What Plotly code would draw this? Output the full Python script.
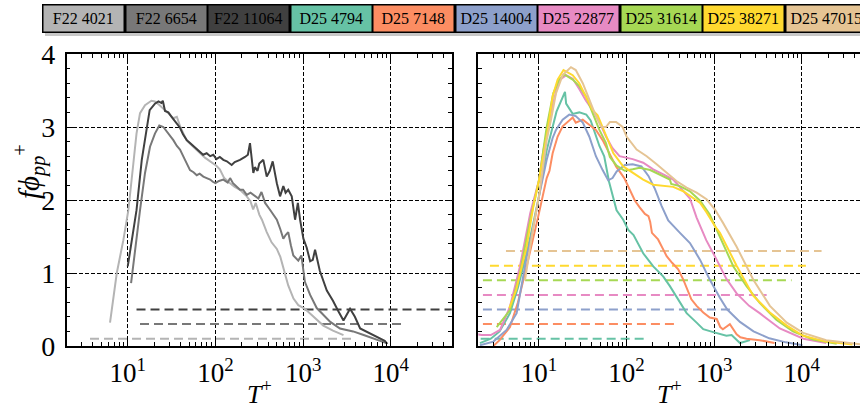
import numpy as np
import plotly.graph_objects as go

# ---------------- data (x values are log10(T+)) ----------------
labels = ["F22 4021", "F22 6654", "F22 11064", "D25 4794", "D25 7148",
          "D25 14004", "D25 22877", "D25 31614", "D25 38271", "D25 47015"]
colors = ["#b4b4b4", "#787878", "#404040", "#66c2a5", "#fc8d62",
          "#8da0cb", "#e78ac3", "#a6d854", "#ffd92f", "#e5c494"]
panel = [1, 1, 1, 2, 2, 2, 2, 2, 2, 2]

# dashed reference lines: level and log10(T+) extent
ref_level = [0.1, 0.3, 0.5, 0.1, 0.3, 0.5, 0.7, 0.9, 1.1, 1.3]
ref_start_logT = [0.57, 1.14, 1.10, 0.334, 0.2, 0.2, 0.2, 0.2, 0.44, 0.623]
ref_end_logT = [3.57, 4.14, 4.80, 2.25, 2.59, 3.18, 3.60, 3.885, 4.048, 4.227]

f22_4021_logT = [0.798, 0.875, 0.95, 1.007, 1.064, 1.10, 1.14, 1.197, 1.27, 1.31, 1.36, 1.42, 1.47,
                 1.52, 1.56, 1.60, 1.67, 1.72, 1.77, 1.82, 1.88, 1.94, 2.01, 2.05, 2.10, 2.167,
                 2.22, 2.28, 2.33, 2.357, 2.40, 2.43, 2.46, 2.50, 2.53, 2.585, 2.64, 2.70, 2.74,
                 2.774, 2.83, 2.89, 2.945, 3.02, 3.116, 3.23, 3.34, 3.46]
f22_4021_val = [0.32, 1.00, 1.45, 1.86, 2.50, 2.91, 3.19, 3.30, 3.36, 3.35, 3.30, 3.24, 3.18,
                3.12, 3.14, 3.00, 2.82, 2.76, 2.70, 2.64, 2.58, 2.53, 2.47, 2.42, 2.30, 2.23,
                2.18, 2.14, 2.08, 2.05, 1.98, 1.87, 1.96, 1.80, 1.73, 1.56, 1.42, 1.33, 1.22,
                1.06, 0.83, 0.65, 0.56, 0.51, 0.40, 0.28, 0.21, 0.15]

f22_6654_logT = [1.038, 1.10, 1.14, 1.197, 1.254, 1.31, 1.36, 1.406, 1.44, 1.463, 1.52, 1.56,
                 1.596, 1.653, 1.69, 1.71, 1.75, 1.787, 1.82, 1.862, 1.90, 1.94, 1.97, 2.00,
                 2.04, 2.09, 2.14, 2.167, 2.20, 2.24, 2.28, 2.315, 2.357, 2.40, 2.45, 2.49,
                 2.525, 2.566, 2.62, 2.66, 2.70, 2.74, 2.774, 2.80, 2.83, 2.86, 2.888, 2.945,
                 2.98, 3.02, 3.08, 3.155, 3.23, 3.31, 3.42, 3.57, 3.69, 3.84, 3.95]
f22_6654_val = [0.86, 1.50, 1.86, 2.37, 2.73, 2.91, 3.02, 3.00, 2.95, 2.91, 2.82, 2.74,
                2.69, 2.55, 2.47, 2.41, 2.38, 2.34, 2.36, 2.32, 2.30, 2.28, 2.25, 2.23,
                2.26, 2.28, 2.24, 2.30, 2.23, 2.19, 2.14, 2.14, 2.07, 2.10, 2.05, 2.02,
                2.11, 1.96, 1.87, 1.80, 1.73, 1.60, 1.47, 1.52, 1.56, 1.38, 1.24, 1.17,
                1.24, 0.88, 0.70, 0.52, 0.43, 0.33, 0.24, 0.20, 0.15, 0.09, 0.04]

f22_11064_logT = [1.00, 1.05, 1.10, 1.16, 1.22, 1.25, 1.31, 1.35, 1.384, 1.40, 1.425, 1.463,
                  1.50, 1.52, 1.56, 1.596, 1.63, 1.673, 1.71, 1.75, 1.78, 1.82, 1.86, 1.90,
                  1.94, 1.976, 2.01, 2.05, 2.09, 2.13, 2.167, 2.185, 2.22, 2.25, 2.28, 2.337,
                  2.37, 2.394, 2.432, 2.45, 2.48, 2.50, 2.546, 2.585, 2.62, 2.653, 2.70, 2.737,
                  2.774, 2.80, 2.83, 2.87, 2.908, 2.94, 2.965, 3.003, 3.04, 3.08, 3.11, 3.136,
                  3.19, 3.27, 3.34, 3.40, 3.46, 3.535, 3.59, 3.65, 3.76, 3.93, 3.96]
f22_11064_val = [1.09, 1.50, 1.86, 2.55, 3.05, 3.23, 3.32, 3.35, 3.33, 3.36, 3.22, 3.20,
                 3.14, 3.11, 3.05, 2.99, 2.90, 2.82, 2.78, 2.74, 2.70, 2.67, 2.62, 2.64,
                 2.60, 2.62, 2.56, 2.59, 2.55, 2.53, 2.50, 2.48, 2.52, 2.53, 2.55, 2.59,
                 2.62, 2.78, 2.37, 2.45, 2.40, 2.50, 2.55, 2.32, 2.40, 2.53, 2.23, 2.05,
                 2.19, 2.10, 2.14, 2.05, 1.73, 1.96, 1.73, 1.47, 1.35, 1.16, 1.18, 1.32,
                 1.03, 0.76, 0.62, 0.48, 0.35, 0.51, 0.40, 0.24, 0.17, 0.07, 0.03]

d25_4794_logT = [0.326, 0.45, 0.55, 0.669, 0.76, 0.859, 0.93, 1.00, 1.088, 1.20, 1.297, 1.31,
                 1.385, 1.46, 1.54, 1.59, 1.69, 1.745, 1.80, 1.84, 1.886, 1.962, 2.02, 2.08,
                 2.19, 2.305, 2.42, 2.495, 2.61, 2.686, 2.80, 2.876, 2.99, 3.14, 3.20, 3.295, 3.41]
d25_4794_val = [0.04, 0.10, 0.20, 0.45, 0.80, 1.27, 1.65, 2.05, 2.68, 3.21, 3.48, 3.32,
                3.18, 3.20, 3.17, 3.09, 2.74, 2.60, 2.25, 2.07, 1.86, 1.73, 1.59, 1.52,
                1.27, 1.09, 0.95, 0.82, 0.59, 0.45, 0.32, 0.23, 0.19, 0.14, 0.15, 0.04, 0.08]

d25_7148_logT = [0.479, 0.55, 0.669, 0.76, 0.859, 0.93, 1.00, 1.088, 1.12, 1.156, 1.213, 1.27,
                 1.33, 1.385, 1.42, 1.46, 1.50, 1.574, 1.65, 1.727, 1.80, 1.88, 1.974, 2.04,
                 2.096, 2.15, 2.21, 2.25, 2.27, 2.29, 2.36, 2.42, 2.458, 2.52, 2.59, 2.648,
                 2.693, 2.74, 2.80, 2.876, 2.95, 3.03, 3.07, 3.10, 3.18, 3.257, 3.30, 3.37,
                 3.52, 3.64, 3.69]
d25_7148_val = [0.00, 0.08, 0.26, 0.60, 1.09, 1.45, 1.82, 2.30, 2.40, 2.64, 2.87, 3.01,
                3.08, 3.13, 3.06, 3.08, 3.10, 3.03, 2.96, 2.82, 2.64, 2.46, 2.30, 2.12,
                1.99, 1.90, 1.81, 1.78, 1.70, 1.55, 1.46, 1.32, 1.23, 1.14, 1.05, 0.91,
                0.78, 0.64, 0.55, 0.46, 0.39, 0.37, 0.26, 0.23, 0.30, 0.16, 0.12, 0.10,
                0.08, 0.05, 0.04]

d25_14004_logT = [0.326, 0.479, 0.63, 0.745, 0.859, 0.93, 1.00, 1.088, 1.156, 1.194, 1.27,
                  1.346, 1.42, 1.50, 1.574, 1.65, 1.727, 1.79, 1.84, 1.887, 1.98, 2.07, 2.17,
                  2.25, 2.325, 2.40, 2.476, 2.55, 2.61, 2.724, 2.84, 2.95, 3.066, 3.15, 3.295,
                  3.45, 3.63, 3.82, 4.01]
d25_14004_val = [0.01, 0.06, 0.22, 0.45, 1.22, 1.60, 2.05, 2.55, 2.85, 2.96, 3.10,
                 3.17, 3.15, 3.06, 2.87, 2.60, 2.41, 2.27, 2.30, 2.39, 2.48, 2.49, 2.46,
                 2.33, 2.15, 1.92, 1.72, 1.62, 1.55, 1.41, 1.18, 0.91, 0.66, 0.50, 0.33,
                 0.20, 0.105, 0.05, 0.01]

d25_22877_logT = [0.30, 0.345, 0.45, 0.555, 0.669, 0.783, 0.90, 1.00, 1.05, 1.126, 1.20, 1.232,
                  1.31, 1.385, 1.46, 1.537, 1.613, 1.69, 1.765, 1.84, 1.92, 1.99, 2.07, 2.19,
                  2.305, 2.42, 2.533, 2.63, 2.724, 2.80, 2.91, 3.03, 3.14, 3.257, 3.40, 3.52,
                  3.75, 4.02, 4.28]
d25_22877_val = [0.16, 0.15, 0.15, 0.22, 0.54, 1.09, 1.82, 2.27, 2.68, 3.14, 3.51, 3.64,
                 3.71, 3.66, 3.52, 3.36, 3.23, 3.07, 2.87, 2.71, 2.60, 2.58, 2.56, 2.51,
                 2.42, 2.35, 2.28, 2.15, 2.02, 1.76, 1.45, 1.18, 0.92, 0.72, 0.55, 0.45,
                 0.24, 0.10, 0.04]

d25_31614_logT = [0.517, 0.669, 0.783, 0.90, 1.00, 1.088, 1.163, 1.232, 1.29, 1.385, 1.46,
                  1.537, 1.613, 1.69, 1.765, 1.81, 1.887, 1.98, 2.07, 2.15, 2.27, 2.38, 2.495,
                  2.51, 2.61, 2.724, 2.84, 2.95, 3.06, 3.22, 3.37, 3.52, 3.71, 3.90, 4.13, 4.40]
d25_31614_val = [0.26, 0.49, 1.00, 1.73, 2.27, 3.00, 3.46, 3.65, 3.72, 3.65, 3.56,
                 3.42, 3.19, 2.96, 2.78, 2.59, 2.47, 2.40, 2.42, 2.44, 2.41, 2.35, 2.28,
                 2.22, 2.19, 2.12, 1.99, 1.80, 1.52, 1.09, 0.82, 0.59, 0.36, 0.20, 0.09, 0.03]

d25_38271_logT = [0.661, 0.74, 0.859, 0.935, 1.00, 1.10, 1.156, 1.213, 1.28, 1.385, 1.46,
                  1.537, 1.613, 1.67, 1.727, 1.80, 1.85, 1.962, 2.076, 2.19, 2.305, 2.42,
                  2.533, 2.648, 2.76, 2.84, 2.914, 3.01, 3.066, 3.257, 3.446, 3.637, 3.83,
                  4.017, 4.28, 4.58]
d25_38271_val = [0.52, 0.77, 1.36, 1.91, 2.27, 2.96, 3.42, 3.65, 3.78, 3.71, 3.60,
                 3.42, 3.23, 3.16, 3.00, 2.80, 2.64, 2.46, 2.37, 2.28, 2.21, 2.20,
                 2.18, 2.12, 2.03, 1.96, 1.83, 1.64, 1.55, 1.10, 0.69, 0.46, 0.28,
                 0.14, 0.06, 0.02]

d25_47015_logT = [0.84, 0.935, 1.00, 1.088, 1.137, 1.194, 1.27, 1.365, 1.42, 1.50, 1.574,
                  1.65, 1.71, 1.765, 1.81, 1.88, 1.955, 2.00, 2.115, 2.23, 2.344, 2.457,
                  2.57, 2.686, 2.80, 2.914, 3.01, 3.10, 3.257, 3.446, 3.637, 3.83, 4.017,
                  4.28, 4.58, 4.70]
d25_47015_val = [0.90, 1.63, 2.05, 2.82, 3.10, 3.46, 3.71, 3.82, 3.78, 3.60, 3.38,
                 3.15, 3.00, 3.00, 3.07, 3.07, 3.00, 2.87, 2.69, 2.60, 2.49, 2.37,
                 2.26, 2.17, 2.10, 2.01, 1.87, 1.69, 1.36, 0.91, 0.55, 0.32, 0.18,
                 0.08, 0.03, 0.02]

series_logT = [f22_4021_logT, f22_6654_logT, f22_11064_logT, d25_4794_logT, d25_7148_logT,
               d25_14004_logT, d25_22877_logT, d25_31614_logT, d25_38271_logT, d25_47015_logT]
series_val = [f22_4021_val, f22_6654_val, f22_11064_val, d25_4794_val, d25_7148_val,
              d25_14004_val, d25_22877_val, d25_31614_val, d25_38271_val, d25_47015_val]

x_tick_vals = [10, 100, 1000, 10000]
x_tick_text = ["10<sup>1</sup>", "10<sup>2</sup>", "10<sup>3</sup>", "10<sup>4</sup>"]
y_tick_vals = [0, 1, 2, 3, 4]

# ---------------- layout geometry ----------------
W, H = 860, 410
FONT = "Liberation Serif"
left_dom = [66.7 / W, 451.7 / W]
right_dom = [478.3 / W, 1.0]
y_dom = [1 - 346 / H, 1 - 54 / H]
left_range = [0.304, 4.694]
right_range = [0.307, 4.666]

fig = go.Figure()

for i in range(len(labels)):
    xa = "x" if panel[i] == 1 else "x2"
    ya = "y" if panel[i] == 1 else "y2"
    fig.add_trace(go.Scatter(
        x=np.power(10.0, ref_start_logT[i:i + 1] + ref_end_logT[i:i + 1]),
        y=[ref_level[i], ref_level[i]], mode="lines", xaxis=xa, yaxis=ya,
        line=dict(color=colors[i], width=2, dash="9px,5px"), hoverinfo="skip"))
for i in range(len(labels)):
    xa = "x" if panel[i] == 1 else "x2"
    ya = "y" if panel[i] == 1 else "y2"
    fig.add_trace(go.Scatter(
        x=np.power(10.0, np.array(series_logT[i])), y=series_val[i], mode="lines",
        xaxis=xa, yaxis=ya, name=labels[i],
        line=dict(color=colors[i], width=2)))

minor_x = [k * 10 ** d for d in range(0, 5) for k in range(2, 10)]

def xaxis_cfg(dom, rng, anchor):
    return dict(type="log", domain=dom, range=rng, anchor=anchor, automargin=False,
                showline=True, linecolor="black", linewidth=1.5, mirror="ticks",
                ticks="inside", ticklen=7, tickwidth=1, tickcolor="black",
                tickvals=x_tick_vals, ticktext=x_tick_text,
                tickfont=dict(family=FONT, size=27, color="black"), ticklabelstandoff=2,
                showgrid=True, gridcolor="black", gridwidth=1, griddash="4px,2px",
                minor=dict(ticks="inside", ticklen=4, tickwidth=1, tickcolor="black",
                           tickvals=minor_x, showgrid=False),
                zeroline=False)

def yaxis_cfg(anchor, labels_on, mirror):
    return dict(domain=y_dom, range=[0, 4], anchor=anchor, automargin=False,
                showline=True, linecolor="black", linewidth=1.5, mirror=mirror,
                ticks="inside", ticklen=7, tickwidth=1, tickcolor="black",
                tickvals=y_tick_vals, showticklabels=labels_on,
                tickfont=dict(family=FONT, size=28, color="black"), ticklabelstandoff=4,
                showgrid=True, gridcolor="black", gridwidth=1, griddash="4px,2px",
                minor=dict(ticks="inside", ticklen=4, tickwidth=1, tickcolor="black",
                           dtick=0.2, showgrid=False),
                zeroline=False)

fig.update_layout(
    width=W, height=H, margin=dict(l=0, r=0, t=0, b=0, autoexpand=False),
    paper_bgcolor="white", plot_bgcolor="white", showlegend=False,
    font=dict(family=FONT, color="black"),
    xaxis=xaxis_cfg(left_dom, left_range, "y"),
    yaxis=yaxis_cfg("x", True, "ticks"),
    xaxis2=xaxis_cfg(right_dom, right_range, "y2"),
    yaxis2=yaxis_cfg("x2", False, False),
)

annotations = []
# legend boxes across the top
box_left, box_w, box_cy, bw = 42.3, 82.55, 18.5, 1.5
for i, lab in enumerate(labels):
    cx = box_left + box_w * (i + 0.5)
    annotations.append(dict(
        text=lab, xref="paper", yref="paper", x=cx / W, y=1 - box_cy / H,
        xanchor="center", yanchor="middle", showarrow=False,
        font=dict(family=FONT, size=16, color="black"),
        bgcolor=colors[i], bordercolor="black", borderwidth=bw, borderpad=0,
        width=box_w - 2 * bw, height=26))
# axis titles
for cx in [259, 669]:
    annotations.append(dict(text="<i>T</i><sup>+</sup>", xref="paper", yref="paper",
                            x=cx / W, y=1 - 392 / H, xanchor="center", yanchor="middle",
                            showarrow=False, font=dict(family=FONT, size=26, color="black")))
annotations.append(dict(text="<i>f\u03d5<sub>pp</sub></i><sup>+</sup>", xref="paper", yref="paper",
                        x=30 / W, y=1 - 172 / H, xanchor="center", yanchor="middle",
                        textangle=-90, showarrow=False,
                        font=dict(family=FONT, size=29, color="black")))
fig.update_layout(annotations=annotations)

fig.add_shape(type="rect", xref="paper", yref="paper", x0=45 / W, x1=1.01,
              y0=1 - 36 / H, y1=1 - 31 / H, fillcolor="#c8c8c8", line=dict(width=0),
              layer="below")

fig.write_html("out.html")
